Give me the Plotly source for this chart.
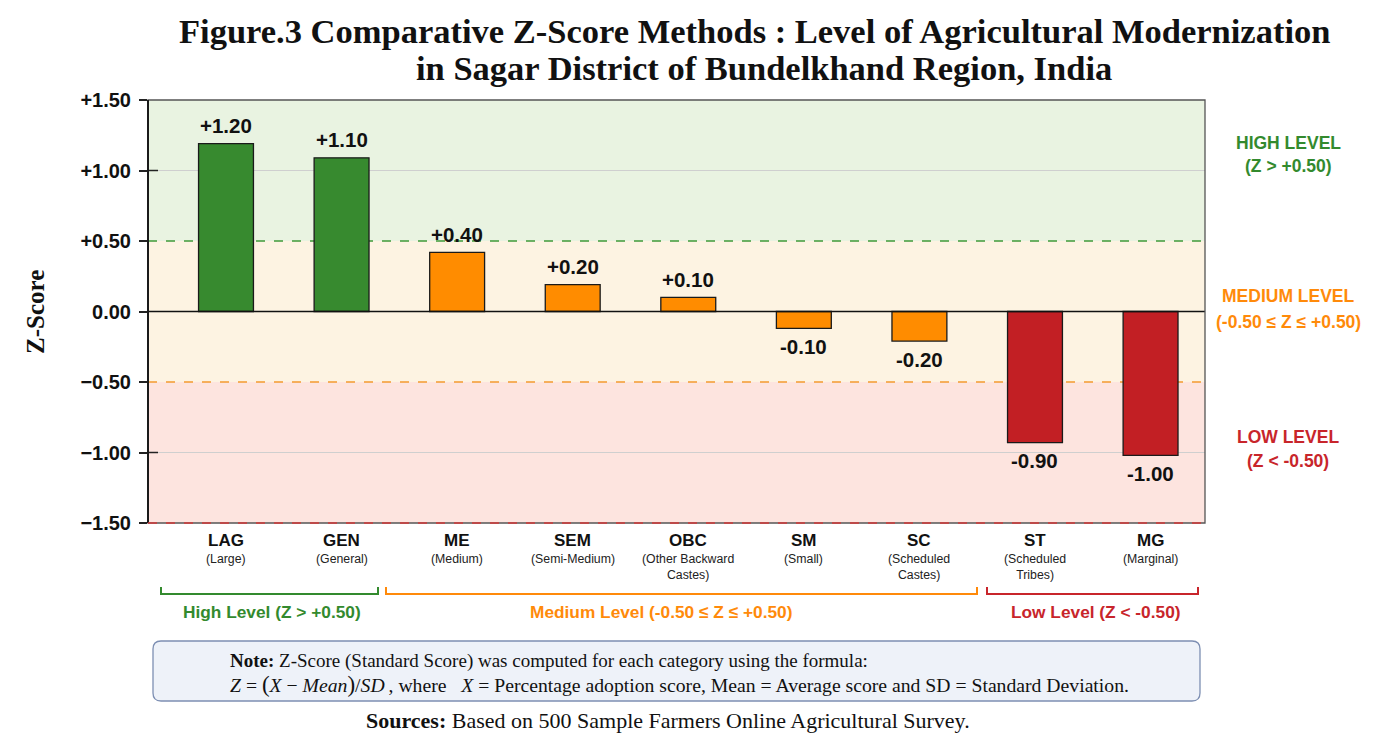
import plotly.graph_objects as go

codes = ["LAG", "GEN", "ME", "SEM", "OBC", "SM", "SC", "ST", "MG"]
names = ["(Large)", "(General)", "(Medium)", "(Semi-Medium)", "(Other Backward<br>Castes)",
         "(Small)", "(Scheduled<br>Castes)", "(Scheduled<br>Tribes)", "(Marginal)"]
zscores = [1.19, 1.09, 0.42, 0.19, 0.10, -0.12, -0.21, -0.93, -1.02]
value_labels = ["+1.20", "+1.10", "+0.40", "+0.20", "+0.10", "-0.10", "-0.20", "-0.90", "-1.00"]
levels = ["high", "high", "mid", "mid", "mid", "mid", "mid", "low", "low"]
ytick_vals = [1.5, 1.0, 0.5, 0.0, -0.5, -1.0, -1.5]
ytick_text = ["+1.50", "+1.00", "+0.50", "0.00", "\u22120.50", "\u22121.00", "\u22121.50"]

GREEN, ORANGE, RED = "#378a2f", "#ff8c00", "#c21f24"
LGREEN, LORANGE, LRED = "#338a2e", "#ff8a0a", "#c8252b"
colmap = {"high": GREEN, "mid": ORANGE, "low": RED}
SERIF = "Liberation Serif"
SANS = "Liberation Sans"

OFF = 8  # page body margin
W, H = 1374 - OFF, 741 - OFF
RL, RR, RT, RB = 148, 1205, 100, 523
L, R, T, B = RL - OFF, RR - OFF, RT - OFF, RB - OFF

def py(px):
    return (RB - px) / (RB - RT)

def pxx(px):
    return (px - RL) / (RR - RL)

X0, DX = 226.0, 115.57
def dx(px):
    return (px - X0) / DX

xs = list(range(len(codes)))

fig = go.Figure()
fig.add_trace(go.Bar(
    x=xs, y=zscores, width=0.475,
    marker=dict(color=[colmap[l] for l in levels], line=dict(color="#1a1a1a", width=1.3)),
    hoverinfo="skip",
))

shapes = []
shapes.append(dict(type="rect", xref="paper", yref="y", x0=0, x1=1, y0=0.5, y1=1.5,
                   fillcolor="#e9f3e1", line_width=0, layer="below"))
shapes.append(dict(type="rect", xref="paper", yref="y", x0=0, x1=1, y0=-0.5, y1=0.5,
                   fillcolor="#fdf3e2", line_width=0, layer="below"))
shapes.append(dict(type="rect", xref="paper", yref="y", x0=0, x1=1, y0=-1.5, y1=-0.5,
                   fillcolor="#fde4df", line_width=0, layer="below"))
for v in [1.0, -1.0]:
    shapes.append(dict(type="line", xref="paper", yref="y", x0=0, x1=1, y0=v, y1=v,
                       line=dict(color="#cfcfcf", width=1), layer="below"))
    shapes.append(dict(type="line", xref="paper", yref="y", x0=0, x1=10 / (RR - RL), y0=v, y1=v,
                       line=dict(color="#222222", width=1.5), layer="above"))
shapes.append(dict(type="line", xref="paper", yref="y", x0=0, x1=1, y0=0.5, y1=0.5,
                   line=dict(color="#3f9a3a", width=1.3, dash="dash"), layer="below"))
shapes.append(dict(type="line", xref="paper", yref="y", x0=0, x1=1, y0=-0.5, y1=-0.5,
                   line=dict(color="#f39a30", width=1.3, dash="dash"), layer="below"))
shapes.append(dict(type="line", xref="paper", yref="y", x0=0, x1=1, y0=0, y1=0,
                   line=dict(color="#111111", width=1.5), layer="above"))
shapes.append(dict(type="rect", xref="paper", yref="paper", x0=0, x1=1, y0=0, y1=1,
                   line=dict(color="#555555", width=1.3), layer="above"))
shapes.append(dict(type="line", xref="paper", yref="paper", x0=0, x1=0, y0=0, y1=1,
                   line=dict(color="#1a1a1a", width=2), layer="above"))
shapes.append(dict(type="line", xref="paper", yref="paper", x0=0, x1=1, y0=0, y1=0,
                   line=dict(color="#d23a3a", width=1.3, dash="dash"), layer="above"))

annotations = []
for i in xs:
    v = zscores[i]
    annotations.append(dict(xref="x", yref="y", x=i, y=v, text=f"<b>{value_labels[i]}</b>",
                            showarrow=False, xanchor="center", yanchor="middle",
                            yshift=18 if v >= 0 else -18,
                            font=dict(family=SANS, size=20.5, color="#111111")))

brackets = [(161, 378, 272, LGREEN, "High Level (Z > +0.50)"),
            (386, 977, 661, LORANGE, "Medium Level (-0.50 \u2264 Z \u2264 +0.50)"),
            (987, 1198, 1096, LRED, "Low Level (Z < -0.50)")]
for a, b, lx, c, txt in brackets:
    xa, xb = pxx(a), pxx(b)
    yb, yt = py(594), py(587)
    shapes.append(dict(type="path", xref="paper", yref="paper",
                       path=f"M {xa},{yt} L {xa},{yb} L {xb},{yb} L {xb},{yt}",
                       line=dict(color=c, width=2)))
    annotations.append(dict(xref="paper", yref="paper", x=pxx(lx), y=py(612),
                            text=f"<b>{txt}</b>", showarrow=False, xanchor="center", yanchor="middle",
                            font=dict(family=SANS, size=17.3, color=c)))

bx0, bx1, by0, by1 = pxx(153), pxx(1200), py(701), py(641)
rx, ry = 8 / (RR - RL), 8 / (RB - RT)
path = (f"M {bx0+rx},{by1} L {bx1-rx},{by1} Q {bx1},{by1} {bx1},{by1-ry} "
        f"L {bx1},{by0+ry} Q {bx1},{by0} {bx1-rx},{by0} L {bx0+rx},{by0} "
        f"Q {bx0},{by0} {bx0},{by0+ry} L {bx0},{by1-ry} Q {bx0},{by1} {bx0+rx},{by1} Z")
shapes.append(dict(type="path", xref="paper", yref="paper", path=path,
                   fillcolor="#eef2f9", line=dict(color="#7d8fb3", width=1.3)))

for i in xs:
    annotations.append(dict(xref="x", yref="paper", x=i, y=py(540), text=f"<b>{codes[i]}</b>",
                            showarrow=False, xanchor="center", yanchor="middle",
                            font=dict(family=SANS, size=17, color="#111111")))
    annotations.append(dict(xref="x", yref="paper", x=i, y=py(550), text=names[i],
                            showarrow=False, xanchor="center", yanchor="top",
                            font=dict(family=SANS, size=12.3, color="#222222")))

right = [(143, 166, LGREEN, "HIGH LEVEL", "(Z > +0.50)"),
         (296, 322, LORANGE, "MEDIUM LEVEL", "(-0.50 \u2264 Z \u2264 +0.50)"),
         (437, 461, LRED, "LOW LEVEL", "(Z < -0.50)")]
for y1, y2, c, t1, t2 in right:
    for yy, tt in [(y1, t1), (y2, t2)]:
        annotations.append(dict(xref="paper", yref="paper", x=pxx(1288), y=py(yy), text=f"<b>{tt}</b>",
                                showarrow=False, xanchor="center", yanchor="middle",
                                font=dict(family=SANS, size=17.5, color=c)))

annotations.append(dict(xref="paper", yref="paper", x=pxx(754), y=py(31),
                        text="<b>Figure.3 Comparative Z-Score Methods : Level of Agricultural Modernization</b>",
                        showarrow=False, xanchor="center", yanchor="middle",
                        font=dict(family=SERIF, size=34.5, color="#111111")))
annotations.append(dict(xref="paper", yref="paper", x=pxx(764), y=py(68),
                        text="<b>in Sagar District of Bundelkhand Region, India</b>",
                        showarrow=False, xanchor="center", yanchor="middle",
                        font=dict(family=SERIF, size=34.5, color="#111111")))
annotations.append(dict(xref="paper", yref="paper", x=pxx(35), y=py(312), text="<b>Z-Score</b>",
                        textangle=-90, showarrow=False, xanchor="center", yanchor="middle",
                        font=dict(family=SERIF, size=25, color="#111111")))
annotations.append(dict(xref="paper", yref="paper", x=pxx(228), y=py(661),
                        text="<b>Note:</b> Z-Score (Standard Score) was computed for each category using the formula:",
                        showarrow=False, xanchor="left", yanchor="middle",
                        font=dict(family=SERIF, size=19, color="#111111")))
annotations.append(dict(xref="paper", yref="paper", x=pxx(228), y=py(684),
                        text=("<i>Z</i> = <span style='font-size:23px'>(</span><i>X</i> \u2212 <i>Mean</i>"
                              "<span style='font-size:23px'>)</span>/<i>SD</i>\u2009, where \u2002<i>X</i> = "
                              "Percentage adoption score, Mean = Average score and SD = Standard Deviation."),
                        showarrow=False, xanchor="left", yanchor="middle",
                        font=dict(family=SERIF, size=19.7, color="#111111")))
annotations.append(dict(xref="paper", yref="paper", x=pxx(668), y=py(720),
                        text="<b>Sources:</b> Based on 500 Sample Farmers Online Agricultural Survey.",
                        showarrow=False, xanchor="center", yanchor="middle",
                        font=dict(family=SERIF, size=22, color="#111111")))

fig.update_layout(
    width=W, height=H,
    margin=dict(l=L, r=W - R, t=T, b=H - B, pad=0),
    paper_bgcolor="white", plot_bgcolor="white",
    showlegend=False,
    xaxis=dict(range=[dx(RL), dx(RR)], showticklabels=False, showgrid=False, zeroline=False,
               ticks="", fixedrange=True),
    yaxis=dict(range=[-1.5, 1.5], tickvals=ytick_vals, ticktext=[f"<b>{t}</b>" for t in ytick_text],
               tickfont=dict(family=SANS, size=20, color="#111111"),
               ticks="outside", ticklen=8, tickwidth=1.5, tickcolor="#222222", showgrid=False,
               ticklabelstandoff=4,
               zeroline=False, showline=False, fixedrange=True),
    shapes=shapes, annotations=annotations,
    font=dict(family=SANS),
)

fig.write_html("out.html")
